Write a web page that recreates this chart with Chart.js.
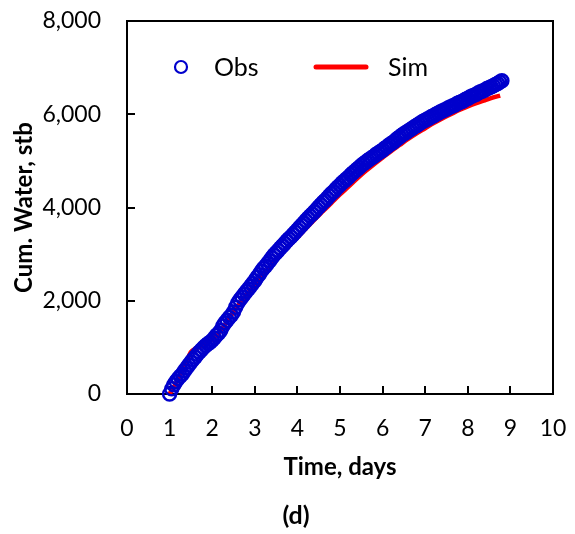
<!DOCTYPE html>
<html lang="en">
<head>
    <meta charset="UTF-8">
    <title>Cum. Water</title>
    <script src="https://cdn.jsdelivr.net/npm/chart.js"></script>
    <style>
        body { margin: 0; background: #fff; }
        #wrap { width: 575px; height: 534px; }
    </style>
</head>
<body>
    <div id="wrap"><canvas id="chart" width="575" height="534"></canvas></div>
    <script>
        // observed cumulative water, stb
        const obsTime = [
            1.00, 1.05, 1.10, 1.15, 1.20, 1.25, 1.30, 1.35, 1.40, 1.45,
            1.50, 1.55, 1.60, 1.65, 1.70, 1.75, 1.80, 1.85, 1.90, 1.95,
            2.00, 2.05, 2.10, 2.15, 2.20, 2.25, 2.30, 2.35, 2.40, 2.45,
            2.50, 2.55, 2.60, 2.65, 2.70, 2.75, 2.80, 2.85, 2.90, 2.95,
            3.00, 3.05, 3.10, 3.15, 3.20, 3.25, 3.30, 3.35, 3.40, 3.45,
            3.50, 3.55, 3.60, 3.65, 3.70, 3.75, 3.80, 3.85, 3.90, 3.95,
            4.00, 4.05, 4.10, 4.15, 4.20, 4.25, 4.30, 4.35, 4.40, 4.45,
            4.50, 4.55, 4.60, 4.65, 4.70, 4.75, 4.80, 4.85, 4.90, 4.95,
            5.00, 5.05, 5.10, 5.15, 5.20, 5.25, 5.30, 5.35, 5.40, 5.45,
            5.50, 5.55, 5.60, 5.65, 5.70, 5.75, 5.80, 5.85, 5.90, 5.95,
            6.00, 6.05, 6.10, 6.15, 6.20, 6.25, 6.30, 6.35, 6.40, 6.45,
            6.50, 6.55, 6.60, 6.65, 6.70, 6.75, 6.80, 6.85, 6.90, 6.95,
            7.00, 7.05, 7.10, 7.15, 7.20, 7.25, 7.30, 7.35, 7.40, 7.45,
            7.50, 7.55, 7.60, 7.65, 7.70, 7.75, 7.80, 7.85, 7.90, 7.95,
            8.00, 8.05, 8.10, 8.15, 8.20, 8.25, 8.30, 8.35, 8.40, 8.45,
            8.50, 8.55, 8.60, 8.65, 8.70, 8.75, 8.80
        ];
        const obsWater = [
            0, 110, 200, 270, 330, 380, 430, 500, 560, 620,
            680, 740, 790, 850, 900, 950, 1000, 1040, 1080, 1110,
            1150, 1200, 1260, 1300, 1360, 1460, 1530, 1580, 1640, 1690,
            1760, 1860, 1950, 2020, 2080, 2140, 2200, 2250, 2310, 2370,
            2430, 2500, 2560, 2630, 2690, 2740, 2800, 2860, 2920, 2980,
            3030, 3080, 3130, 3180, 3230, 3280, 3330, 3370, 3420, 3470,
            3520, 3570, 3620, 3670, 3720, 3770, 3820, 3860, 3910, 3960,
            4010, 4060, 4110, 4150, 4200, 4250, 4300, 4340, 4390, 4440,
            4480, 4530, 4570, 4610, 4650, 4700, 4740, 4780, 4820, 4860,
            4900, 4940, 4970, 5010, 5040, 5070, 5100, 5140, 5170, 5200,
            5230, 5270, 5300, 5340, 5370, 5400, 5440, 5480, 5510, 5550,
            5580, 5610, 5640, 5670, 5700, 5730, 5760, 5790, 5820, 5850,
            5870, 5900, 5920, 5950, 5970, 6000, 6020, 6050, 6070, 6090,
            6110, 6140, 6160, 6180, 6200, 6230, 6250, 6270, 6290, 6320,
            6340, 6370, 6390, 6410, 6430, 6460, 6480, 6500, 6520, 6550,
            6570, 6590, 6610, 6640, 6660, 6690, 6720
        ];

        // simulated cumulative water, stb
        const simTime = [
            1.0, 1.1, 1.2, 1.3, 1.4, 1.5, 1.6, 1.7, 1.8, 1.9, 2.0,
            2.2, 2.4, 2.6, 2.8, 3.0, 3.2, 3.4, 3.6, 3.8, 4.0,
            4.2, 4.4, 4.6, 4.8, 5.0, 5.2, 5.4, 5.6, 5.8, 6.0,
            6.2, 6.4, 6.6, 6.8, 7.0, 7.2, 7.4, 7.6, 7.8, 8.0,
            8.2, 8.4, 8.6, 8.76
        ];
        const simWater = [
            0, 150, 320, 500, 700, 900, 970, 1010, 1060, 1110, 1170,
            1360, 1620, 1890, 2120, 2350, 2570, 2780, 2980, 3170, 3360,
            3550, 3740, 3920, 4100, 4280, 4450, 4620, 4780, 4930, 5070,
            5210, 5340, 5470, 5590, 5700, 5810, 5910, 6000, 6090, 6170,
            6240, 6300, 6360, 6400
        ];

        const xTicks = [0, 1, 2, 3, 4, 5, 6, 7, 8, 9, 10];
        const yTicks = [0, 2000, 4000, 6000, 8000];
        const seriesNames = ['Obs', 'Sim'];

        const FONT = 'Lato, "Open Sans", sans-serif';
        const BLUE = '#0000CC';
        const RED = '#FF0000';

        function toPoints(xs, ys) {
            return xs.map((x, i) => ({ x: x, y: ys[i] }));
        }

        // frame, inward tick marks, legend and panel letter
        const extras = {
            id: 'extras',
            beforeDatasetsDraw(chart) {
                const ctx = chart.ctx;
                const a = chart.chartArea;
                const xs = chart.scales.x;
                const ys = chart.scales.y;
                ctx.save();
                ctx.strokeStyle = '#000';
                ctx.lineWidth = 2;
                ctx.strokeRect(a.left, a.top, a.right - a.left, a.bottom - a.top);
                ctx.beginPath();
                xTicks.forEach(v => {
                    const px = Math.round(xs.getPixelForValue(v));
                    ctx.moveTo(px, a.bottom);
                    ctx.lineTo(px, a.bottom - 8);
                });
                yTicks.forEach(v => {
                    const py = Math.round(ys.getPixelForValue(v));
                    ctx.moveTo(a.left, py);
                    ctx.lineTo(a.left + 8, py);
                });
                ctx.stroke();
                ctx.restore();
            },
            afterDraw(chart) {
                const ctx = chart.ctx;
                ctx.save();
                ctx.font = '25px ' + FONT;
                ctx.fillStyle = '#000';
                ctx.textBaseline = 'middle';

                ctx.strokeStyle = BLUE;
                ctx.lineWidth = 2.2;
                ctx.beginPath();
                ctx.arc(181, 67, 6, 0, Math.PI * 2);
                ctx.stroke();
                ctx.fillText(seriesNames[0], 214, 68);

                ctx.strokeStyle = RED;
                ctx.lineWidth = 5;
                ctx.lineCap = 'round';
                ctx.beginPath();
                ctx.moveTo(316, 67);
                ctx.lineTo(366, 67);
                ctx.stroke();
                ctx.fillText(seriesNames[1], 388, 68);

                ctx.font = 'bold 25px ' + FONT;
                ctx.textAlign = 'center';
                ctx.fillText('(d)', 296, 516);
                ctx.restore();
            }
        };

        new Chart(document.getElementById('chart'), {
            type: 'scatter',
            data: {
                datasets: [{
                    label: seriesNames[0],
                    data: toPoints(obsTime, obsWater),
                    borderColor: BLUE,
                    backgroundColor: 'rgba(0,0,0,0)',
                    borderWidth: 2.5,
                    pointRadius: 6.5,
                    showLine: false,
                    clip: false
                }, {
                    label: seriesNames[1],
                    data: toPoints(simTime, simWater),
                    borderColor: RED,
                    backgroundColor: RED,
                    borderWidth: 4.5,
                    pointRadius: 0,
                    showLine: true,
                    tension: 0.3,
                    clip: false
                }]
            },
            options: {
                responsive: false,
                animation: false,
                events: [],
                layout: { padding: { left: 0, top: 21, right: 22, bottom: 0 } },
                plugins: {
                    legend: { display: false },
                    tooltip: { enabled: false }
                },
                scales: {
                    x: {
                        type: 'linear',
                        min: 0,
                        max: 10,
                        afterBuildTicks: s => { s.ticks = xTicks.map(v => ({ value: v })); },
                        afterFit: s => {
                            s.height = 140;
                            s.paddingLeft = 0;
                            s.paddingRight = 0;
                        },
                        grid: { display: false, drawTicks: false },
                        border: { display: false },
                        ticks: {
                            padding: 21,
                            color: '#000',
                            font: { family: FONT, size: 23 }
                        },
                        title: {
                            display: true,
                            text: 'Time, days',
                            color: '#000',
                            font: { family: FONT, size: 24, weight: 'bold' },
                            padding: { top: 0, bottom: 52 }
                        }
                    },
                    y: {
                        type: 'linear',
                        min: 0,
                        max: 8000,
                        afterBuildTicks: s => { s.ticks = yTicks.map(v => ({ value: v })); },
                        afterFit: s => {
                            s.width = 127;
                            s.paddingTop = 0;
                            s.paddingBottom = 0;
                        },
                        grid: { display: false, drawTicks: false },
                        border: { display: false },
                        ticks: {
                            padding: 26,
                            color: '#000',
                            font: { family: FONT, size: 23 },
                            callback: v => v.toLocaleString('en-US')
                        },
                        title: {
                            display: true,
                            text: 'Cum. Water, stb',
                            color: '#000',
                            font: { family: FONT, size: 24, weight: 'bold' },
                            padding: { top: 10, bottom: 0 }
                        }
                    }
                }
            },
            plugins: [extras]
        });
    </script>
</body>
</html>
